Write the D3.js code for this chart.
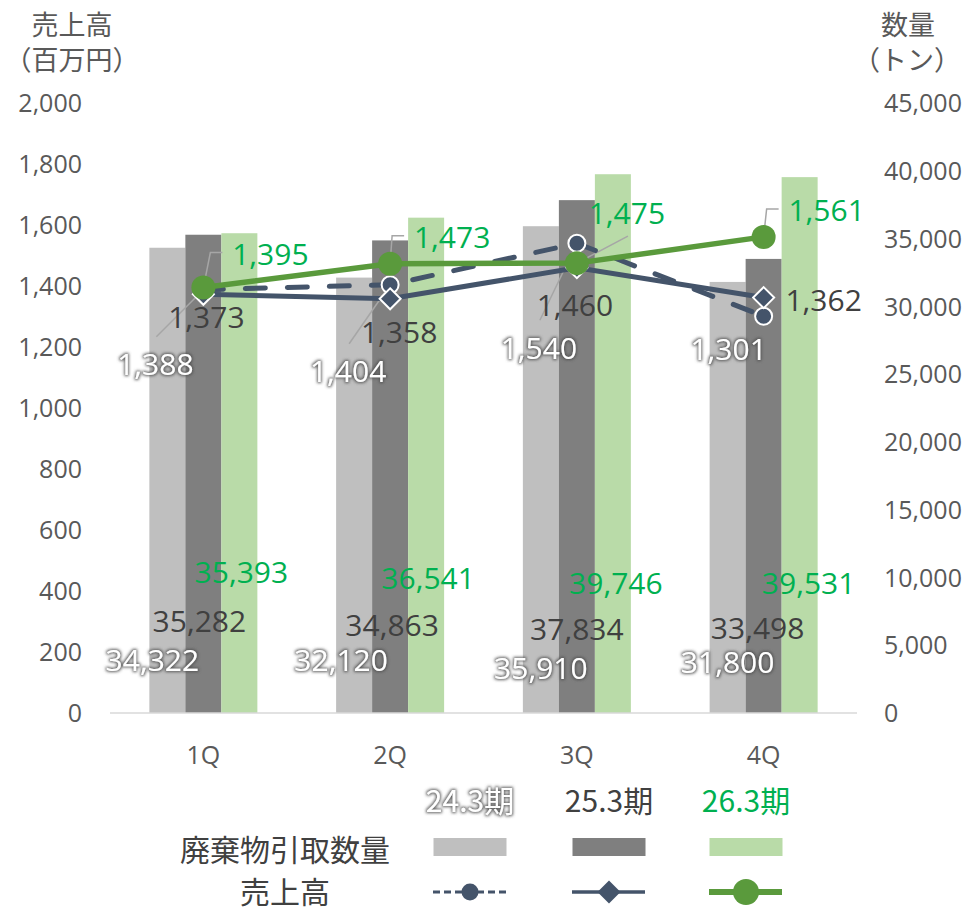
<!DOCTYPE html>
<html>
<head>
<meta charset="utf-8">
<script src="https://cdn.jsdelivr.net/npm/d3@7"></script>
<style>
  body { margin: 0; background: #fff; }
  svg { display: block; font-family: "Open Sans", "Noto Sans CJK JP", sans-serif; }
  .cjk { font-family: "Noto Sans CJK JP", sans-serif; }
</style>
</head>
<body>
<div id="chart"></div>
<script>
// data
const quarters = ["1Q", "2Q", "3Q", "4Q"];
const periods = ["24.3期", "25.3期", "26.3期"];
const volume243 = [34322, 32120, 35910, 31800];
const volume253 = [35282, 34863, 37834, 33498];
const volume263 = [35393, 36541, 39746, 39531];
const sales243 = [1388, 1404, 1540, 1301];
const sales253 = [1373, 1358, 1460, 1362];
const sales263 = [1395, 1473, 1475, 1561];
const leftTicks = [0, 200, 400, 600, 800, 1000, 1200, 1400, 1600, 1800, 2000];
const rightTicks = [0, 5000, 10000, 15000, 20000, 25000, 30000, 35000, 40000, 45000];

// label placement (layout only, offsets in px)
const salesLabelOffset = [
  [[-48, 75], [-42, 87], [-38, 105], [-35, 33]],
  [[3, 23], [9, 34], [-2, 38], [60, 3]],
  [[67, -33], [62, -26], [50, -50], [63, -26]]
];
const volumeLabelOffset = [
  [[-51, -53], [-49, -53], [-36, -45], [-36, -51]],
  [[-4, -92], [2, -88], [0, -84], [-6, -85]],
  [[38, -141], [38, -135], [39, -130], [45, -130]]
];

const W = 966, H = 907;
const plot = { left: 110, right: 857, top: 103, bottom: 713 };

const barColors = ["#bfbfbf", "#7f7f7f", "#b9dba8"];
const lineBlue = "#44546a", lineGreen = "#5a9a3c";
const textGray = "#595959", textDark = "#404040", textGreen = "#00b050";

const volumes = [volume243, volume253, volume263];
const sales = [sales243, sales253, sales263];

const svg = d3.select("#chart").append("svg")
  .attr("width", W).attr("height", H);

// glow for white labels
const defs = svg.append("defs");
const f = defs.append("filter").attr("id", "glow")
  .attr("x", "-20%").attr("y", "-30%").attr("width", "140%").attr("height", "160%");
f.append("feMorphology").attr("in", "SourceAlpha").attr("operator", "dilate").attr("radius", 1.3).attr("result", "d");
f.append("feGaussianBlur").attr("in", "d").attr("stdDeviation", 1.4).attr("result", "b");
f.append("feFlood").attr("flood-color", "#505050").attr("flood-opacity", 0.9);
f.append("feComposite").attr("in2", "b").attr("operator", "in").attr("result", "g");
const m = f.append("feMerge");
m.append("feMergeNode").attr("in", "g");
m.append("feMergeNode").attr("in", "SourceGraphic");

const x0 = d3.scaleBand().domain(quarters).range([plot.left, plot.right])
  .paddingInner(0.4217).paddingOuter(0.2108);
const x1 = d3.scaleBand().domain(periods).range([0, x0.bandwidth()]);
const yL = d3.scaleLinear().domain([0, 2000]).range([plot.bottom, plot.top]);
const yR = d3.scaleLinear().domain([0, 45000]).range([plot.bottom, plot.top]);
const cx = q => x0(q) + x0.bandwidth() / 2;
const fmt = d3.format(",");

// axes (labels only)
const axisL = svg.append("g").attr("transform", `translate(${82},0)`)
  .call(d3.axisLeft(yL).tickValues(leftTicks).tickFormat(fmt).tickSize(0).tickPadding(0));
const axisR = svg.append("g").attr("transform", `translate(${884},0)`)
  .call(d3.axisRight(yR).tickValues(rightTicks).tickFormat(fmt).tickSize(0).tickPadding(0));
[axisL, axisR].forEach(a => {
  a.select(".domain").remove();
  a.selectAll("text").attr("font-size", 25).attr("fill", textGray)
    .attr("font-family", "Open Sans").attr("dy", "0.35em");
});

// bars
periods.forEach((p, si) => {
  svg.append("g").selectAll("rect")
    .data(quarters.map((q, i) => ({ q, v: volumes[si][i] })))
    .join("rect")
    .attr("x", d => x0(d.q) + x1(p))
    .attr("width", x1.bandwidth())
    .attr("y", d => yR(d.v))
    .attr("height", d => yR(0) - yR(d.v))
    .attr("fill", barColors[si]);
});

// baseline
svg.append("line")
  .attr("x1", plot.left).attr("x2", plot.right)
  .attr("y1", plot.bottom).attr("y2", plot.bottom)
  .attr("stroke", "#d9d9d9").attr("stroke-width", 1.5);

// x labels
const axisB = svg.append("g").attr("transform", `translate(0,${755})`)
  .call(d3.axisBottom(x0).tickSize(0).tickPadding(0));
axisB.select(".domain").remove();
axisB.selectAll("text").attr("font-size", 25).attr("fill", textGray)
  .attr("font-family", "Open Sans").attr("dy", "0.35em");

// bar labels
const barLabelStyle = [
  { fill: "#fff", filter: "url(#glow)" },
  { fill: textDark, filter: null },
  { fill: textGreen, filter: null }
];
periods.forEach((p, si) => {
  svg.append("g").selectAll("text")
    .data(quarters.map((q, i) => ({ q, i, v: volumes[si][i] })))
    .join("text")
    .attr("x", d => cx(d.q) + volumeLabelOffset[si][d.i][0])
    .attr("y", d => yR(0) + volumeLabelOffset[si][d.i][1])
    .attr("dy", "0.35em")
    .attr("text-anchor", "middle")
    .attr("font-size", 30)
    .attr("fill", barLabelStyle[si].fill)
    .attr("filter", barLabelStyle[si].filter)
    .text(d => fmt(d.v));
});

// lines
const pts = sales.map(arr => quarters.map((q, i) => ({ q, i, v: arr[i], x: cx(q), y: yL(arr[i]) })));
const line = d3.line().x(d => d.x).y(d => d.y);

// leader lines (behind markers)
const leaders = svg.append("g").attr("fill", "none").attr("stroke", "#a6a6a6").attr("stroke-width", 1.5);
pts[0].forEach(d => {
  if (d.i === 3) return;
  const lx = d.x + salesLabelOffset[0][d.i][0], ly = d.y + salesLabelOffset[0][d.i][1];
  leaders.append("path").attr("d", d3.line()([[lx + 1, ly - 28], [d.x, d.y]]));
});
pts[2].forEach(d => {
  const lx = d.x + salesLabelOffset[2][d.i][0], ly = d.y + salesLabelOffset[2][d.i][1];
  if (d.i === 2) {
    leaders.append("path").attr("d", d3.line()([[d.x, d.y], [lx + 1, ly + 23]]));
  } else {
    leaders.append("path").attr("d", d3.line()([[d.x, d.y], [lx - 60, ly - 2], [lx - 48, ly - 2]]));
  }
});

// 24.3期 dashed
svg.append("path").datum(pts[0]).attr("d", line)
  .attr("fill", "none").attr("stroke", lineBlue).attr("stroke-width", 5)
  .attr("stroke-dasharray", "20 22").attr("stroke-linecap", "round");
svg.append("g").selectAll("circle").data(pts[0]).join("circle")
  .attr("cx", d => d.x).attr("cy", d => d.y).attr("r", 8.5)
  .attr("fill", lineBlue).attr("stroke", "#fff").attr("stroke-width", 2);

// 25.3期 solid with diamonds
svg.append("path").datum(pts[1]).attr("d", line)
  .attr("fill", "none").attr("stroke", lineBlue).attr("stroke-width", 5);
svg.append("g").selectAll("path").data(pts[1]).join("path")
  .attr("transform", d => `translate(${d.x},${d.y})`)
  .attr("d", "M0,-10.5L10.5,0L0,10.5L-10.5,0Z")
  .attr("fill", lineBlue).attr("stroke", "#fff").attr("stroke-width", 2);

// 26.3期 green
svg.append("path").datum(pts[2]).attr("d", line)
  .attr("fill", "none").attr("stroke", lineGreen).attr("stroke-width", 5.5);
svg.append("g").selectAll("circle").data(pts[2]).join("circle")
  .attr("cx", d => d.x).attr("cy", d => d.y).attr("r", 12)
  .attr("fill", lineGreen);

// sales labels
periods.forEach((p, si) => {
  svg.append("g").selectAll("text").data(pts[si]).join("text")
    .attr("x", d => d.x + salesLabelOffset[si][d.i][0])
    .attr("y", d => d.y + salesLabelOffset[si][d.i][1])
    .attr("dy", "0.35em")
    .attr("text-anchor", "middle")
    .attr("font-size", 30)
    .attr("fill", barLabelStyle[si].fill)
    .attr("filter", barLabelStyle[si].filter)
    .text(d => fmt(d.v));
});

// axis titles
const titles = svg.append("g").attr("class", "cjk").attr("fill", textGray)
  .attr("font-size", 27).attr("text-anchor", "middle");
titles.append("text").attr("x", 72).attr("y", 25).attr("dy", "0.36em").text("売上高");
titles.append("text").attr("x", 72).attr("y", 60).attr("dy", "0.36em").text("（百万円）");
titles.append("text").attr("x", 908).attr("y", 25).attr("dy", "0.36em").text("数量");
titles.append("text").attr("x", 907).attr("y", 60).attr("dy", "0.36em").text("（トン）");

// legend
const legCols = [470, 609, 746];
const leg = svg.append("g");
periods.forEach((p, si) => {
  leg.append("text").attr("class", "cjk")
    .attr("x", legCols[si]).attr("y", 801).attr("dy", "0.36em")
    .attr("text-anchor", "middle").attr("font-size", 30)
    .attr("fill", barLabelStyle[si].fill).attr("filter", barLabelStyle[si].filter)
    .text(p);
  leg.append("rect").attr("x", legCols[si] - 36.5).attr("y", 838)
    .attr("width", 73).attr("height", 18).attr("fill", barColors[si]);
});
leg.append("text").attr("class", "cjk").attr("x", 285).attr("y", 850).attr("dy", "0.36em")
  .attr("text-anchor", "middle").attr("font-size", 30).attr("fill", textDark).text("廃棄物引取数量");
leg.append("text").attr("class", "cjk").attr("x", 285).attr("y", 892).attr("dy", "0.36em")
  .attr("text-anchor", "middle").attr("font-size", 30).attr("fill", textDark).text("売上高");

const ly = 892;
leg.append("line").attr("x1", legCols[0] - 37).attr("x2", legCols[0] + 36).attr("y1", ly).attr("y2", ly)
  .attr("stroke", lineBlue).attr("stroke-width", 3).attr("stroke-dasharray", "7 4");
leg.append("circle").attr("cx", legCols[0]).attr("cy", ly).attr("r", 8.5).attr("fill", lineBlue);
leg.append("line").attr("x1", legCols[1] - 37).attr("x2", legCols[1] + 36).attr("y1", ly).attr("y2", ly)
  .attr("stroke", lineBlue).attr("stroke-width", 3.5);
leg.append("path").attr("transform", `translate(${legCols[1]},${ly})`)
  .attr("d", "M0,-11.5L11.5,0L0,11.5L-11.5,0Z").attr("fill", lineBlue);
leg.append("line").attr("x1", legCols[2] - 37).attr("x2", legCols[2] + 36).attr("y1", ly).attr("y2", ly)
  .attr("stroke", lineGreen).attr("stroke-width", 6);
leg.append("circle").attr("cx", legCols[2]).attr("cy", ly).attr("r", 13).attr("fill", lineGreen);
</script>
</body>
</html>
